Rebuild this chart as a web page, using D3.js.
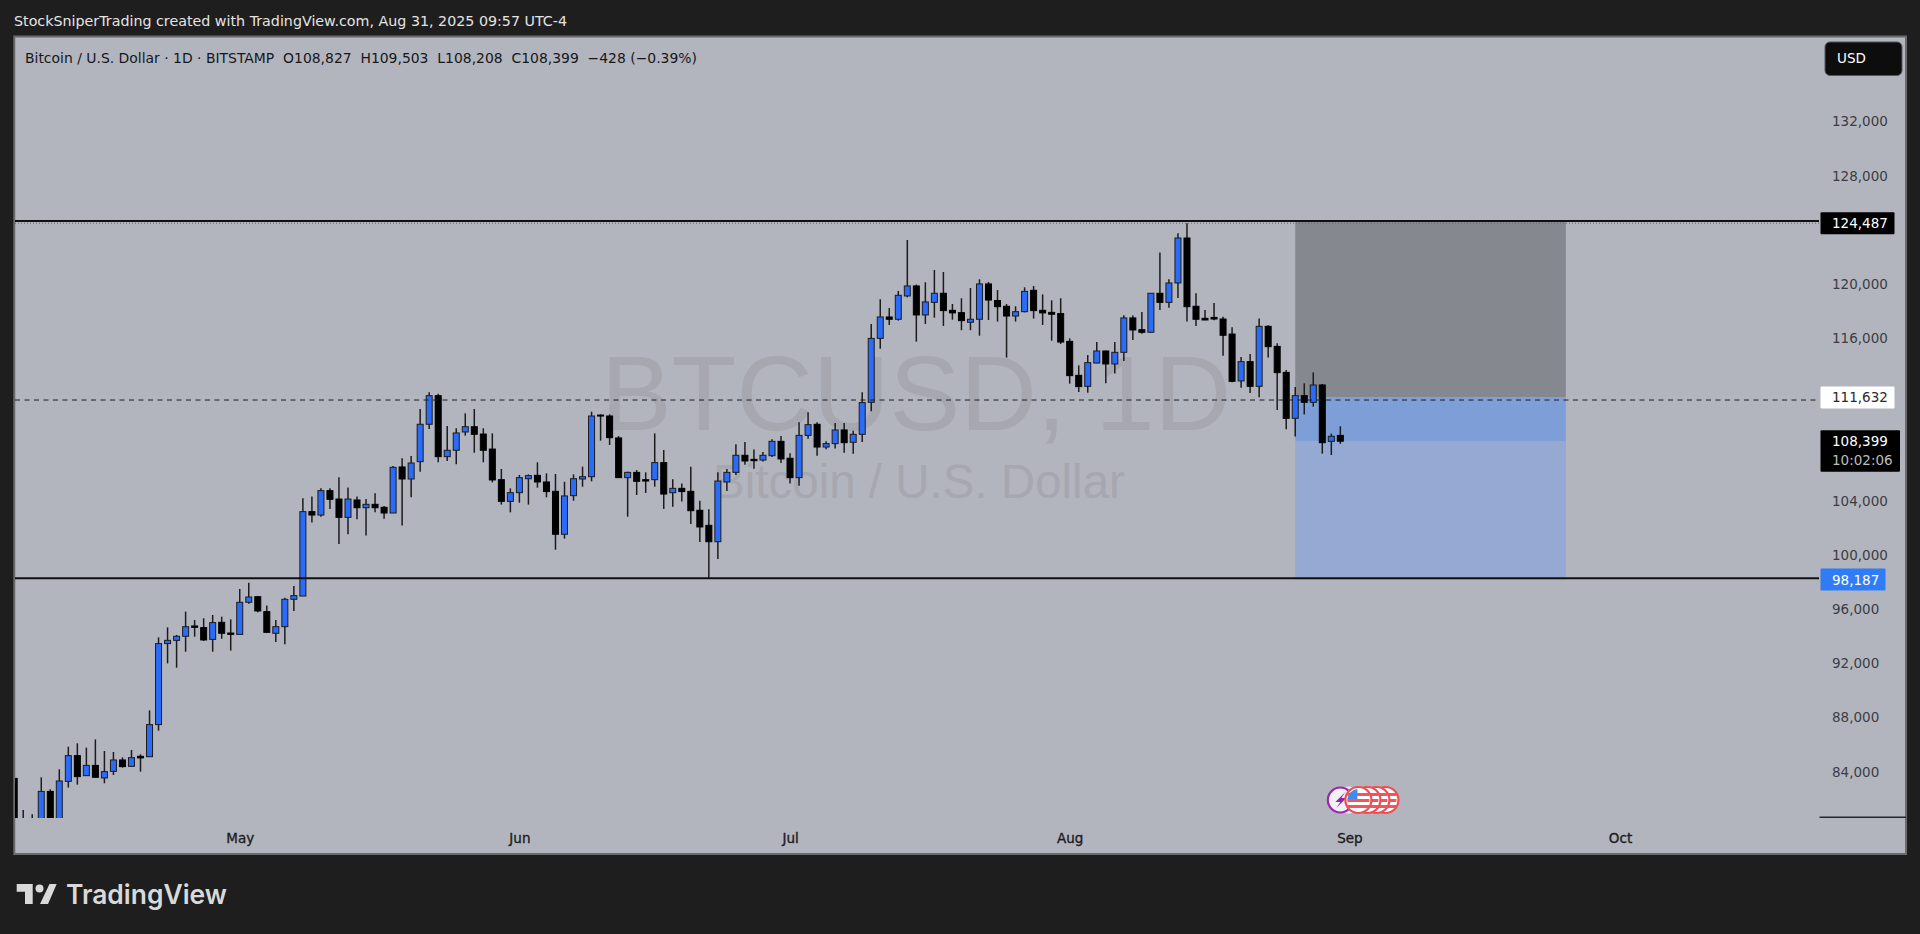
<!DOCTYPE html>
<html>
<head>
<meta charset="utf-8">
<title>BTCUSD 1D</title>
<script src="https://cdn.jsdelivr.net/npm/d3@7"></script>
<style>
html,body{margin:0;padding:0;background:#1e1e1e;overflow:hidden}
svg{display:block}
text{white-space:pre}
</style>
</head>
<body>
<svg id="drawing_region"></svg>
<script>
const title = "StockSniperTrading created with TradingView.com, Aug 31, 2025 09:57 UTC-4"
const legend = "Bitcoin / U.S. Dollar · 1D · BITSTAMP  O108,827  H109,503  L108,208  C108,399  −428 (−0.39%)"
const watermark = ["BTCUSD, 1D","Bitcoin / U.S. Dollar"]

// first candle is Apr 6 2025, one candle per day
const firstDay = new Date(Date.UTC(2025,3,6))
const opens = [83510,78200,79200,76300,82550,79600,83290,85190,83710,84470,
83540,84030,84870,84400,85140,85110,87480,93460,93700,94000,
94760,94640,93770,95030,94240,94140,96510,96920,95820,94220,
94710,96730,96970,103200,102950,104750,104130,102780,104060,103490,
103740,103520,103100,106500,105610,106890,109650,111760,107260,107730,
109080,109470,108930,107820,105560,103960,104600,105630,105880,105390,
104700,101530,104380,105610,105780,110330,110260,108640,105710,106100,
105560,105560,106820,104600,104920,104700,103300,102190,100980,105390,
106100,107360,107060,107010,107330,108390,107140,105710,108830,109650,
107970,108220,109230,108320,108910,111270,115990,117570,117400,119120,
119860,117720,118650,119320,118060,117890,117180,117400,120010,118780,
118360,117640,117960,119540,118060,117910,117820,115770,113260,112450,
114170,115060,114100,114960,117500,116630,116440,119320,118650,120080,
123400,118360,117470,117540,117420,116310,112850,114270,112450,116880,
115400,113480,110090,111760,111270,112550,108390,108827]
const highs = [83690,81180,80860,83590,82700,84180,85850,86100,85780,86390,
85530,85460,85060,85610,85290,88530,93920,94660,94100,95820,
95200,95330,95570,95450,95250,97490,97960,96980,96280,95200,
96850,97710,104180,104310,104920,104920,105730,104990,104310,104130,
104550,103620,106570,107140,107310,110780,112010,111900,109520,109350,
110460,110780,109350,108980,106350,104920,105910,105950,106840,106030,
105980,105410,105950,106520,110580,110380,110380,108780,106150,106270,
106100,108980,107750,105590,105270,106520,104010,103370,106100,106350,
108170,108340,107780,107600,108540,108780,107510,109790,110530,109790,
108390,109740,109740,109180,112010,117050,118870,118230,119490,123250,
119960,120130,121040,120890,118530,118950,119710,120350,120150,119560,
118530,118360,119760,119860,119240,118800,118950,115990,114000,114760,
115720,115080,115720,117690,117670,117940,119340,122320,120350,123750,
124490,119320,118090,118600,117590,116810,114620,114840,117450,116950,
115630,113660,112400,112670,113480,112620,108960,109503]
const lows = [77100,74500,76200,74600,78400,79000,82830,83050,83710,83590,
83150,83760,84300,84400,84010,85110,87030,92000,91680,92860,
93970,93650,92860,93820,92940,94140,96410,95770,94240,93580,
93410,95870,96970,102390,102830,103400,100810,101530,102630,101430,
103150,102680,103100,102170,104260,106150,109300,106840,106940,106690,
108810,107550,106840,105360,103720,103150,103860,103720,104970,104260,
100390,101210,104010,105040,105440,108440,108120,105710,102830,104430,
104580,105040,103400,103570,103940,102290,100960,98280,99700,104720,
105910,106670,106370,106910,107230,106790,105270,105120,108590,107330,
107800,107870,107550,107480,108340,110610,115230,116980,117300,119020,
115750,117050,117520,116910,117370,116590,116590,116190,117350,117230,
114570,117230,117910,117450,116980,115820,115580,112650,112030,111980,
114150,112670,113390,114320,115870,116340,116410,118090,118260,118970,
117230,116910,117320,117320,114710,112750,112350,111960,111640,114570,
110700,109280,108740,110380,110950,107480,107380,108208]
const closes = [78200,79200,76300,82550,79600,83320,85190,83640,84470,83590,
84010,84870,84380,85040,85020,87480,93460,93700,94000,94710,
94660,93730,95010,94220,94140,96510,96900,95870,94290,94710,
96730,97000,103200,102950,104750,104110,102780,104130,103490,103740,
103490,103100,106470,105610,106790,109650,111760,107260,107730,109010,
109470,108910,107730,105540,103960,104600,105710,105860,105390,104680,
101530,104360,105630,105780,110260,110260,108660,105710,106100,105440,
105460,106820,104500,104920,104680,103270,102070,100980,105460,106100,
107360,106940,106960,107360,108390,107090,105710,108830,109620,107970,
108220,109230,108290,108910,111250,115990,117570,117400,119170,119860,
117720,118680,119320,118040,117870,117300,117400,120010,118820,118330,
117640,117960,119460,118040,117870,117770,115720,113240,112430,114200,
115060,114100,114960,117500,116610,116440,119320,118650,120080,123400,
118330,117400,117350,117420,116220,112820,114270,112450,116880,115380,
113460,110090,111760,111270,112550,108290,108760,108399]

// 124,000 112,000 and 108,000 sit under the price labels in the picture
const priceTicks = [132000,128000,120000,116000,104000,100000,96000,92000,88000,84000]
const monthTicks = [[2025,4],[2025,5],[2025,6],[2025,7],[2025,8],[2025,9]]

// drawn lines and the long/short tool
const upperLine = 124655
const lowerLine = 98280
const dashedLine = 111440
const athLevel = 124487
const toolStart = new Date(Date.UTC(2025,7,26))
const toolEnd = new Date(Date.UTC(2025,8,25))
const toolTop = 124487
const toolEntry = 111632
const toolCurrent = 108399
const toolBottom = 98187

// event bullets under the candles
const eventDays = [[2025,8,5],[2025,8,4],[2025,8,3],[2025,8,2]]
const sparkDay = [2025,7,31]

const priceLabels = [
    {price:124487,text:"124,487",fill:"#000",color:"#fff",width:74},
    {price:111632,text:"111,632",fill:"#fff",color:"#2a2a2e",width:74},
    {price:98187,text:"98,187",fill:"#2f7cf6",color:"#fff",width:65}
]

const width = 1920, height = 934
const pane = {left:14.3,top:36.5,right:1906,bottom:854}
const plot = {left:15,top:37,right:1820,bottom:818}

const svg = d3.select("#drawing_region").attr("width",width).attr("height",height)

const x = d3.scaleUtc()
    .domain([firstDay,new Date(Date.UTC(2025,9,1))])
    .range([14.2,1620])
const y = d3.scaleLinear()
    .domain([80000,136000])
    .range([825.94,67.3])

svg.append("rect").attr("width",width).attr("height",height).attr("fill","#1e1e1e")
svg.append("rect")
    .attr("x",pane.left).attr("y",pane.top)
    .attr("width",pane.right-pane.left).attr("height",pane.bottom-pane.top)
    .attr("fill","#b2b5be").attr("stroke","#6b6b6b").attr("stroke-width",2)

svg.append("text").attr("x",14).attr("y",26)
    .attr("font-family","DejaVu Sans").attr("font-size",14).attr("fill","#e4e4e4")
    .attr("textLength",553).attr("lengthAdjust","spacingAndGlyphs")
    .text(title)
svg.append("text").attr("x",25).attr("y",62.5)
    .attr("font-family","DejaVu Sans").attr("font-size",14).attr("fill","#16171c")
    .attr("textLength",672).attr("lengthAdjust","spacingAndGlyphs")
    .text(legend)

svg.append("defs").append("clipPath").attr("id","plot_clip")
    .append("rect")
    .attr("x",plot.left).attr("y",plot.top)
    .attr("width",plot.right-plot.left).attr("height",plot.bottom-plot.top)

// watermark
svg.append("text").attr("x",916).attr("y",430).attr("text-anchor","middle")
    .attr("font-family","Liberation Sans").attr("font-size",106).attr("fill","#a6a7af")
    .text(watermark[0])
svg.append("text").attr("x",919).attr("y",498).attr("text-anchor","middle")
    .attr("font-family","Liberation Sans").attr("font-size",47.5).attr("fill","#a6a7af")
    .text(watermark[1])

// long/short position tool
const tool = svg.append("g")
const toolX = x(toolStart), toolW = x(toolEnd)-x(toolStart)
tool.append("rect").attr("x",toolX).attr("width",toolW)
    .attr("y",y(toolTop)-2).attr("height",y(toolEntry)-y(toolTop)+2).attr("fill","#86888f")
tool.append("rect").attr("x",toolX).attr("width",toolW)
    .attr("y",y(toolEntry)).attr("height",y(toolCurrent)-y(toolEntry)).attr("fill","#7e9ed8")
tool.append("rect").attr("x",toolX).attr("width",toolW)
    .attr("y",y(toolCurrent)).attr("height",y(toolBottom)-y(toolCurrent)).attr("fill","#95a9d2")

// candles
const candles = opens.map((o,i)=>({
    date:d3.utcDay.offset(firstDay,i),
    open:o,high:highs[i],low:lows[i],close:closes[i]
}))
const bodyWidth = 6
const chart = svg.append("g").attr("clip-path","url(#plot_clip)")
chart.selectAll(".wick").data(candles).enter().append("line")
    .attr("class","wick")
    .attr("x1",d=>x(d.date)).attr("x2",d=>x(d.date))
    .attr("y1",d=>y(d.high)).attr("y2",d=>y(d.low))
    .attr("stroke","#1c1c1c").attr("stroke-width",1.5)
chart.selectAll(".body").data(candles).enter().append("rect")
    .attr("class","body")
    .attr("x",d=>x(d.date)-bodyWidth/2)
    .attr("width",bodyWidth)
    .attr("y",d=>y(Math.max(d.open,d.close)))
    .attr("height",d=>Math.max(y(Math.min(d.open,d.close))-y(Math.max(d.open,d.close)),1))
    .attr("fill",d=>d.close>=d.open?"#2a6bfa":"#000")
    .attr("stroke",d=>d.close>=d.open?"#1c1c1c":"#000")

// horizontal lines
const lineX2 = plot.right-1
svg.append("line").attr("x1",plot.left).attr("x2",lineX2)
    .attr("y1",y(athLevel)).attr("y2",y(athLevel))
    .attr("stroke","#6b6d75").attr("stroke-dasharray","1 2")
svg.append("line").attr("x1",plot.left).attr("x2",lineX2)
    .attr("y1",y(upperLine)).attr("y2",y(upperLine))
    .attr("stroke","#101010").attr("stroke-width",2)
svg.append("line").attr("x1",plot.left).attr("x2",lineX2)
    .attr("y1",y(lowerLine)).attr("y2",y(lowerLine))
    .attr("stroke","#101010").attr("stroke-width",2)
svg.append("line").attr("x1",plot.left).attr("x2",lineX2)
    .attr("y1",y(dashedLine)).attr("y2",y(dashedLine))
    .attr("stroke","#1c1c22").attr("stroke-dasharray","5 4.5")

// price axis
const yAxis = d3.axisRight(y)
    .tickValues(priceTicks)
    .tickSize(0).tickPadding(0)
    .tickFormat(d3.format(","))
const yAxisG = svg.append("g").attr("transform","translate(1832,0)").call(yAxis)
yAxisG.select(".domain").remove()
yAxisG.selectAll("text")
    .attr("font-family","DejaVu Sans").attr("font-size",13.5).attr("fill","#3c3d44")

// time axis
const xAxis = d3.axisBottom(x)
    .tickValues(monthTicks.map(d=>new Date(Date.UTC(d[0],d[1],1))))
    .tickSize(0).tickPadding(0)
    .tickFormat(d3.utcFormat("%b"))
const xAxisG = svg.append("g").attr("transform","translate(0,833)").call(xAxis)
xAxisG.select(".domain").remove()
xAxisG.selectAll("text")
    .attr("font-family","DejaVu Sans").attr("font-size",13.5)
    .attr("fill","#1c1c22").attr("stroke","#1c1c22").attr("stroke-width",0.35)

svg.append("line").attr("x1",1819.5).attr("x2",1906).attr("y1",817.3).attr("y2",817.3)
    .attr("stroke","#26262a").attr("stroke-width",1.4)

// price labels on the axis
priceLabels.forEach(d=>{
    const cy = y(d.price)
    svg.append("rect").attr("x",1820.5).attr("y",cy-11).attr("width",d.width).attr("height",22)
        .attr("rx",1).attr("fill",d.fill)
    svg.append("text").attr("x",1832).attr("y",cy+5)
        .attr("font-family","DejaVu Sans").attr("font-size",13.5).attr("fill",d.color)
        .text(d.text)
})
const lastY = y(closes[closes.length-1])
svg.append("rect").attr("x",1820.5).attr("y",lastY-11).attr("width",79.5).attr("height",41.5)
    .attr("rx",1).attr("fill","#000")
svg.append("text").attr("x",1832).attr("y",lastY+5)
    .attr("font-family","DejaVu Sans").attr("font-size",13.5).attr("fill","#fff")
    .text(d3.format(",")(closes[closes.length-1]))
svg.append("text").attr("x",1832).attr("y",lastY+24)
    .attr("font-family","DejaVu Sans").attr("font-size",13.5).attr("fill","#bdbdbd")
    .text("10:02:06")

// currency button
svg.append("rect").attr("x",1825).attr("y",42).attr("width",77).attr("height",33.5).attr("rx",5)
    .attr("fill","#0d0d0d").attr("stroke","#55565c")
svg.append("text").attr("x",1837).attr("y",63)
    .attr("font-family","DejaVu Sans").attr("font-size",13.5).attr("fill","#fff")
    .text("USD")

// event bullets
const eventY = 800
const ev = svg.append("g")
const sparkX = x(new Date(Date.UTC(...sparkDay)))
ev.append("circle").attr("cx",sparkX+8).attr("cy",eventY).attr("r",13.5).attr("fill","#e8e8ee")
ev.append("circle").attr("cx",sparkX).attr("cy",eventY).attr("r",12.5)
    .attr("fill","#f2f2f6").attr("stroke","#9b27b0").attr("stroke-width",2.2)
ev.append("path")
    .attr("d",`M${sparkX+5},${eventY-8}L${sparkX-5},${eventY+2}H${sparkX}L${sparkX-4},${eventY+8}L${sparkX+6},${eventY-2}H${sparkX+1}Z`)
    .attr("fill","#8e24aa")
eventDays.forEach((d,i)=>{
    const cx = x(new Date(Date.UTC(...d)))
    const g = ev.append("g").attr("transform",`translate(${cx},${eventY})`)
    g.append("circle").attr("r",13).attr("fill","#fff").attr("stroke","#f04d54").attr("stroke-width",2.2)
    ;[-7,-1,5].forEach(s=>{
        g.append("rect").attr("x",-11).attr("y",s).attr("width",22).attr("height",3).attr("fill","#f2555c")
    })
    if(i===3){
        g.append("path").attr("d","M-1,-11A11,11 0 0 0 -11,-1H-1Z").attr("fill","#3f8cf0")
    }
})

// TradingView logo
const logo = svg.append("g").attr("fill","#d9d9d9")
logo.append("path").attr("d","M16.7,884H32.7V904H25V891.7H16.7Z")
logo.append("circle").attr("cx",39.5).attr("cy",888.5).attr("r",4)
logo.append("path").attr("d","M49.5,884H56.7L48,904H40Z")
logo.append("text").attr("x",66).attr("y",904)
    .attr("font-family","Inter").attr("font-size",27).attr("font-weight",600)
    .attr("textLength",161).attr("lengthAdjust","spacingAndGlyphs")
    .text("TradingView")
</script>
</body>
</html>
